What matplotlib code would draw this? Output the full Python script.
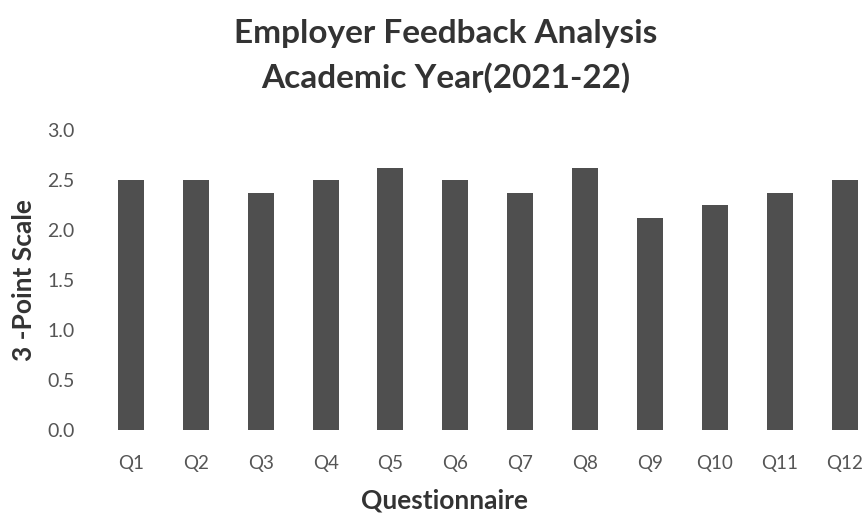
import matplotlib.pyplot as plt

# values (3-point scale)
questions = ["Q1", "Q2", "Q3", "Q4", "Q5", "Q6", "Q7", "Q8", "Q9", "Q10", "Q11", "Q12"]
scores = [2.5, 2.5, 2.375, 2.5, 2.625, 2.5, 2.375, 2.625, 2.125, 2.25, 2.375, 2.5]
yticks = [0.0, 0.5, 1.0, 1.5, 2.0, 2.5, 3.0]

plt.rcParams['font.family'] = ['Lato', 'DejaVu Sans']

fig = plt.figure(figsize=(8.68, 5.17), dpi=100)
ax = fig.add_axes([98.5 / 868, (517 - 430) / 517, 1 - 98.5 / 868, 300 / 517])

x = range(len(questions))
ax.bar(x, scores, width=0.4, color="#4f4f4f")

ax.set_xlim(-0.5, 11.36)
ax.set_ylim(0, 3.0)
ax.set_yticks(yticks)
ax.set_yticklabels([f"{v:.1f}" for v in yticks], fontsize=14, color="#555555")
ax.set_xticks(list(x))
ax.set_xticklabels(questions, fontsize=13.5, color="#555555")
ax.tick_params(length=0)
ax.tick_params(axis="y", pad=17)
ax.tick_params(axis="x", pad=18)
for s in ax.spines.values():
    s.set_visible(False)

ax.set_ylabel("3 -Point Scale", fontsize=19, fontweight="bold", color="#333333", labelpad=8)
ax.set_xlabel("Questionnaire", fontsize=19, fontweight="bold", color="#333333")
ax.xaxis.set_label_coords(0.45, -0.195)

fig.text(0.513, 0.935, "Employer Feedback Analysis", ha="center", va="center",
         fontsize=24, fontweight="bold", color="#333333")
fig.text(0.513, 0.85, "Academic Year(2021-22)", ha="center", va="center",
         fontsize=24, fontweight="bold", color="#333333")

fig.savefig("out.png", dpi=100)
